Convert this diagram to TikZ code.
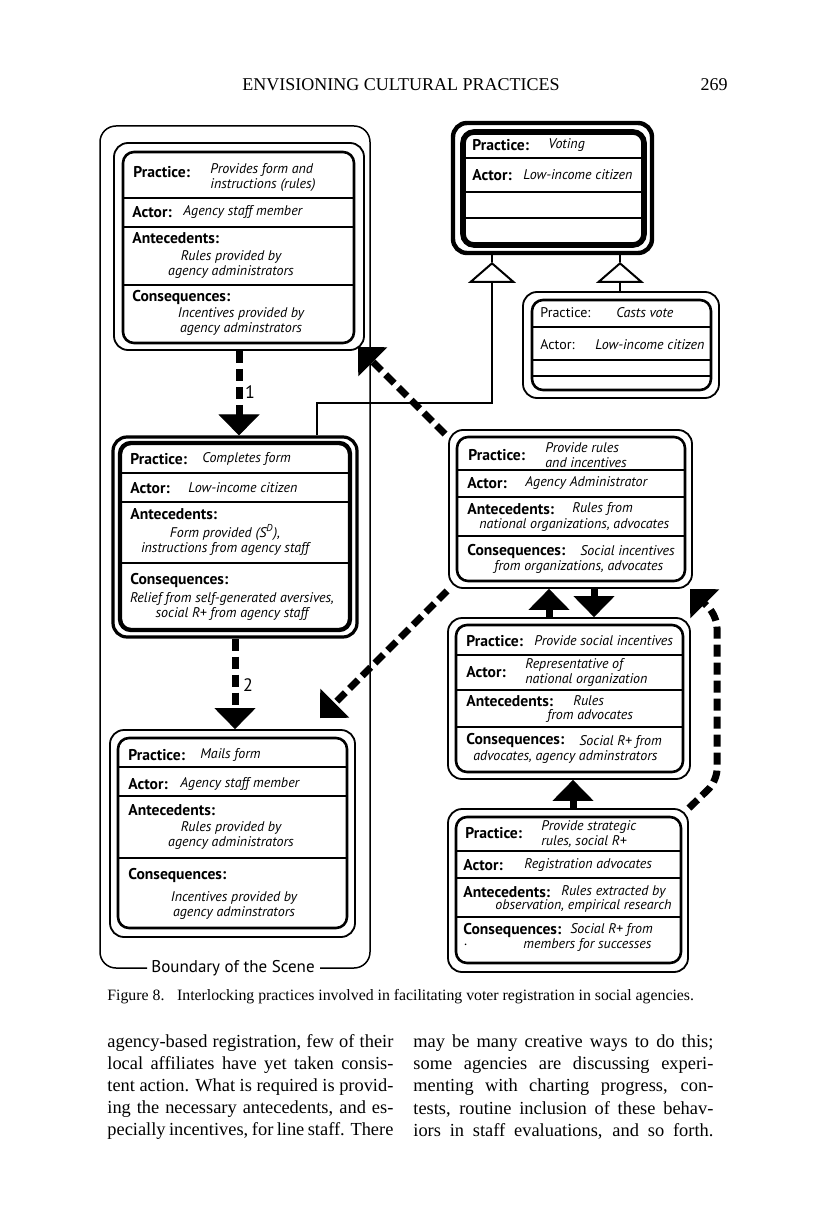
\documentclass[tikz,border=0pt]{standalone}
\usepackage{fontspec}
\setmainfont{Liberation Serif}
\newfontfamily\boxfont{PT Sans}
\usetikzlibrary{arrows.meta, fit}

\begin{document}
\begin{tikzpicture}[x=0.5pt, y=-0.5pt,
  every node/.style={inner sep=0pt},
  lab/.style={anchor=west, font=\boxfont\bfseries\fontsize{7.8}{7.5}\selectfont},
  plab/.style={anchor=west, font=\boxfont\fontsize{7}{7.5}\selectfont},
  val/.style={anchor=west, align=left, font=\boxfont\itshape\fontsize{7}{7.5}\selectfont},
  cval/.style={align=center, font=\boxfont\itshape\fontsize{7}{7.5}\selectfont},
  obox/.style={draw, line width=0.9pt, rounded corners=7pt},
  tbox/.style={draw, line width=1.6pt, rounded corners=7pt},
  ibox/.style={line width=1.3pt, rounded corners=5.5pt},
  tibox/.style={line width=2.2pt, rounded corners=5.5pt},
  rowln/.style={line width=0.7pt},
  dasharr/.style={line width=3.5pt, dash pattern=on 6pt off 3pt,
    -{Triangle[length=10.5pt, width=20.5pt, line width=0.5pt]}},
  isa/.style={line width=1pt, -{Triangle[open, length=10.5pt, width=24pt, fill=white]}},
  body/.style={anchor=west, font=\fontsize{9.2}{11}\selectfont}]

  \fill[white] (0,0) rectangle (816,1224);
  \useasboundingbox (0,0) rectangle (816,1224);

  % page head
  \node[font=\fontsize{9}{11}\selectfont] (head) at (401,85) {ENVISIONING CULTURAL PRACTICES};
  \node[font=\fontsize{9}{11}\selectfont] (pgno) at (714,85) {269};

  % boundary of the scene
  \draw[line width=0.75pt, rounded corners=8pt] (147,968) -| (100,126) -| (370,968) -- (320,968);
  \node[font=\boxfont\fontsize{8.5}{10}\selectfont] (scene) at (233,968) {Boundary of the Scene};

  % provides form (agency staff)
  \node[obox, fit={(114,143) (364,350)}] (pform) {};
  \draw[ibox] (123,152) rectangle (354,343);
  \draw[rowln] (123,198) -- (354,198) (123,227) -- (354,227) (123,285) -- (354,285);
  \node[lab] (pformP) at (133,172) {Practice:};
  \node[val] (pformPv) at (210,178) {Provides form and\\instructions (rules)};
  \node[lab] (pformA) at (132,212) {Actor:};
  \node[val] (pformAv) at (183,212) {Agency staff member};
  \node[lab] (pformN) at (132,238) {Antecedents:};
  \node[cval] (pformNv) at (231,264.5) {Rules provided by\\agency administrators};
  \node[lab] (pformC) at (132,297) {Consequences:};
  \node[cval] (pformCv) at (241,321.5) {Incentives provided by\\agency adminstrators};

  % completes form (citizen)
  \node[tbox, fit={(113,437) (357,637)}] (cform) {};
  \draw[tibox] (120,443) rectangle (350,630);
  \draw[rowln] (120,473) -- (350,473) (120,502) -- (350,502) (120,563) -- (350,563);
  \node[lab] (cformP) at (130,459) {Practice:};
  \node[val] (cformPv) at (202,459) {Completes form};
  \node[lab] (cformA) at (130,488) {Actor:};
  \node[val] (cformAv) at (188,488) {Low-income citizen};
  \node[lab] (cformN) at (130,514) {Antecedents:};
  \node[cval] (cformNv) at (225,539.5) {Form provided (S\textsuperscript{D}),\\instructions from agency staff};
  \node[lab] (cformC) at (130,580) {Consequences:};
  \node[cval] (cformCv) at (232,606.5) {Relief from self-generated aversives,\\social R+ from agency staff};

  % mails form (agency staff)
  \node[obox, fit={(110,730) (355,937)}] (mform) {};
  \draw[ibox] (118,738) rectangle (347,928);
  \draw[rowln] (118,767) -- (347,767) (118,796) -- (347,796) (118,858) -- (347,858);
  \node[lab] (mformP) at (128,755) {Practice:};
  \node[val] (mformPv) at (200,755) {Mails form};
  \node[lab] (mformA) at (128,784) {Actor:};
  \node[val] (mformAv) at (180,784) {Agency staff member};
  \node[lab] (mformN) at (128,810) {Antecedents:};
  \node[cval] (mformNv) at (231,835.5) {Rules provided by\\agency administrators};
  \node[lab] (mformC) at (128,875) {Consequences:};
  \node[cval] (mformCv) at (234,905.5) {Incentives provided by\\agency adminstrators};

  % sequence inside the scene
  \draw[dasharr] (pform.south) -- (pform.south |- cform.north);
  \node[font=\boxfont\fontsize{9}{10}\selectfont] (one) at (250,392) {1};
  \draw[dasharr] (cform.south) -- (cform.south |- mform.north);
  \node[font=\boxfont\fontsize{9}{10}\selectfont] (two) at (248,685) {2};

  % voting
  \node[tbox, line width=2.2pt, fit={(453,123) (652,253)}] (vote) {};
  \draw[tibox, line width=2.8pt] (463,132) rectangle (644,245);
  \draw[rowln] (463,158) -- (644,158) (463,192) -- (644,192) (463,218) -- (644,218);
  \node[lab] (voteP) at (472,145) {Practice:};
  \node[val] (votePv) at (548,145) {Voting};
  \node[lab] (voteA) at (472,175) {Actor:};
  \node[val] (voteAv) at (523,175) {Low-income citizen};

  % casts vote
  \node[obox, fit={(523,292) (719,398)}] (cast) {};
  \draw[ibox] (532,300) rectangle (711,390);
  \draw[rowln] (532,327) -- (711,327) (532,360) -- (711,360) (532,376) -- (711,376);
  \node[plab] (castP) at (540,313) {Practice:};
  \node[val] (castPv) at (616,313) {Casts vote};
  \node[plab] (castA) at (540,345) {Actor:};
  \node[val] (castAv) at (595,345) {Low-income citizen};

  % is-a links to voting
  \coordinate (ta1) at (492,262);
  \coordinate (ta2) at (620,262);
  \coordinate (bend) at (317,403);
  \draw[line width=1pt] (ta1 |- vote.south) -- (ta1) (ta2 |- vote.south) -- (ta2);
  \draw[isa] (bend |- cform.north) -- (bend) -| (ta1);
  \draw[isa] (ta2 |- cast.north) -- (ta2);

  % agency administrator
  \node[obox, fit={(449,430) (692,588)}] (admin) {};
  \draw[ibox] (457,437) rectangle (685,581);
  \draw[rowln] (457,470) -- (685,470) (457,497) -- (685,497) (457,536) -- (685,536);
  \node[lab] (adminP) at (468,455) {Practice:};
  \node[val] (adminPv) at (545,455.5) {Provide rules\\and incentives};
  \node[lab] (adminA) at (467,483) {Actor:};
  \node[val] (adminAv) at (525,483) {Agency Administrator};
  \node[lab] (adminN) at (467,509) {Antecedents:};
  \node[val] (adminNv) at (572,509) {Rules from};
  \node[val] (adminNw) at (479,525) {national organizations, advocates};
  \node[lab] (adminC) at (467,551) {Consequences:};
  \node[val] (adminCv) at (580,551) {Social incentives};
  \node[val] (adminCw) at (494,567) {from organizations, advocates};

  % national organization
  \node[obox, fit={(448,618) (690,779)}] (natorg) {};
  \draw[ibox] (456,625) rectangle (683,772);
  \draw[rowln] (456,655) -- (683,655) (456,690) -- (683,690) (456,727) -- (683,727);
  \node[lab] (natorgP) at (466,641) {Practice:};
  \node[val] (natorgPv) at (534,641) {Provide social incentives};
  \node[lab] (natorgA) at (466,672) {Actor:};
  \node[val] (natorgAv) at (525,672.5) {Representative of\\national organization};
  \node[lab] (natorgN) at (466,701) {Antecedents:};
  \node[val] (natorgNv) at (573,701) {Rules};
  \node[val] (natorgNw) at (547,716) {from advocates};
  \node[lab] (natorgC) at (466,740) {Consequences:};
  \node[val] (natorgCv) at (579,742) {Social R+ from};
  \node[val] (natorgCw) at (473,757) {advocates, agency adminstrators};

  % registration advocates
  \node[obox, fit={(448,809) (688,972)}] (advoc) {};
  \draw[ibox] (456,817) rectangle (681,963);
  \draw[rowln] (456,851) -- (681,851) (456,878) -- (681,878) (456,917) -- (681,917);
  \node[lab] (advocP) at (465,833) {Practice:};
  \node[val] (advocPv) at (541,834.5) {Provide strategic\\rules, social R+};
  \node[lab] (advocA) at (463,865) {Actor:};
  \node[val] (advocAv) at (524,865) {Registration advocates};
  \node[lab] (advocN) at (463,892) {Antecedents:};
  \node[val] (advocNv) at (561,892) {Rules extracted by};
  \node[val] (advocNw) at (495,906) {observation, empirical research};
  \node[lab] (advocC) at (463,930) {Consequences:};
  \node[val] (advocCv) at (570,930) {Social R+ from};
  \node[val] (advocCw) at (523,945) {members for successes};
  \node[val] (advocDot) at (464,945) {.};

  % links among the right column
  \coordinate (up1) at (549,0);
  \coordinate (dn1) at (594,0);
  \coordinate (up2) at (573,0);
  \draw[dasharr] (up1 |- natorg.north) -- (up1 |- admin.south);
  \draw[dasharr] (dn1 |- admin.south) -- (dn1 |- natorg.north);
  \draw[dasharr] (up2 |- advoc.north) -- (up2 |- natorg.south);
  \coordinate (tip1) at (358,347);
  \coordinate (tip2) at (320,718);
  \coordinate (tip3) at (690,589);
  \draw[dasharr] ([shift={(-3,5)}]admin.north west) -- (tip1);
  \draw[dasharr] ([shift={(-1,2)}]admin.south west) -- (tip2);
  \draw[dasharr, rounded corners=6pt] (advoc.north east) -- (717,781) -- (717,616) -- (tip3);

  % caption and text
  \node[anchor=west, font=\fontsize{7.9}{9}\selectfont] (caption) at (107,997)
    {Figure 8.\hspace{0.8em}Interlocking practices involved in facilitating voter registration in social agencies.};
  \node[body] (l1) at (107,1043) {\makebox[143pt][s]{agency-based registration, few of their}};
  \node[body] (l2) at (107,1065) {\makebox[143pt][s]{local affiliates have yet taken consis-}};
  \node[body] (l3) at (107,1087) {\makebox[143pt][s]{tent action. What is required is provid-}};
  \node[body] (l4) at (107,1109) {\makebox[143pt][s]{ing the necessary antecedents, and es-}};
  \node[body] (l5) at (107,1131) {\makebox[143pt][s]{pecially incentives, for line staff. There}};
  \node[body] (r1) at (413,1043) {\makebox[150pt][s]{may be many creative ways to do this;}};
  \node[body] (r2) at (413,1065) {\makebox[150pt][s]{some agencies are discussing experi-}};
  \node[body] (r3) at (413,1087) {\makebox[150pt][s]{menting with charting progress, con-}};
  \node[body] (r4) at (413,1109) {\makebox[150pt][s]{tests, routine inclusion of these behav-}};
  \node[body] (r5) at (413,1131) {\makebox[150pt][s]{iors in staff evaluations, and so forth.}};
\end{tikzpicture}
\end{document}
